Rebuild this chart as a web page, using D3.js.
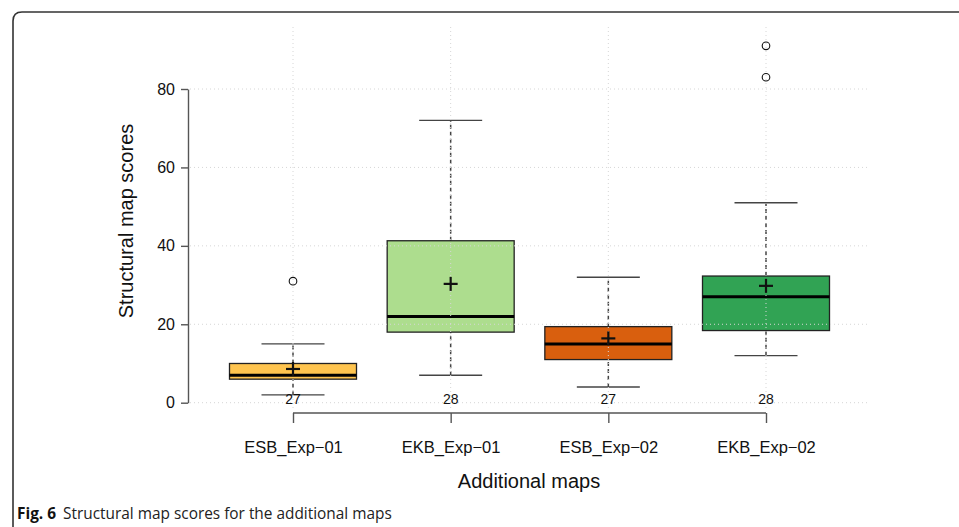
<!DOCTYPE html>
<html>
<head>
<meta charset="utf-8">
<script src="https://cdn.jsdelivr.net/npm/d3@7"></script>
<style>
  html, body { margin: 0; padding: 0; background: #fff; }
  svg { display: block; }
</style>
</head>
<body>
<svg id="chart" width="959" height="527"></svg>
<script>
// ---- data ----
const categories = ["ESB_Exp\u221201", "EKB_Exp\u221201", "ESB_Exp\u221202", "EKB_Exp\u221202"];
const lowerWhisker = [2, 7, 4, 12];
const q1Values     = [6, 18, 11, 18.4];
const medianValues = [7, 22, 15, 27];
const q3Values     = [10, 41.3, 19.4, 32.3];
const upperWhisker = [15, 72, 32, 51];
const meanValues   = [8.6, 30.3, 16.4, 29.8];
const outliers     = [[31], [], [], [91, 83]];
const counts       = [27, 28, 27, 28];
const boxColors    = ["#FEC44F", "#ADDD8E", "#D95F0E", "#31A354"];
const yTicks       = [0, 20, 40, 60, 80];

const svg = d3.select("#chart");
const chartFont = "'Liberation Sans', Arial, Helvetica, sans-serif";

// frame
svg.append("path")
  .attr("d", "M13,540 L13,21 Q13,12 22,12 L970,12")
  .attr("fill", "none").attr("stroke", "#333").attr("stroke-width", 1.6);

// scales
const x = d3.scalePoint().domain(categories).range([293, 766]);
const y = d3.scaleLinear().domain([0, 80]).range([402.7, 89]);
const boxHalf = 63.5, capHalf = 31.5;

const plotTop = 27, plotBottom = 411, plotLeft = 190, plotRight = 868;

const data = categories.map((c, i) => ({
  c, lo: lowerWhisker[i], q1: q1Values[i], med: medianValues[i], q3: q3Values[i],
  hi: upperWhisker[i], mean: meanValues[i], out: outliers[i], n: counts[i], col: boxColors[i]
}));

const g = svg.append("g");

// whiskers (dashed)
g.selectAll(".wlo").data(data).join("line")
  .attr("x1", d => x(d.c)).attr("x2", d => x(d.c))
  .attr("y1", d => y(d.lo)).attr("y2", d => y(d.q1))
  .attr("stroke", "#444").attr("stroke-width", 1.5).attr("stroke-dasharray", "4,3");
g.selectAll(".whi").data(data).join("line")
  .attr("x1", d => x(d.c)).attr("x2", d => x(d.c))
  .attr("y1", d => y(d.q3)).attr("y2", d => y(d.hi))
  .attr("stroke", "#444").attr("stroke-width", 1.5).attr("stroke-dasharray", "4,3");
// caps
g.selectAll(".caplo").data(data).join("line")
  .attr("x1", d => x(d.c) - capHalf).attr("x2", d => x(d.c) + capHalf)
  .attr("y1", d => y(d.lo)).attr("y2", d => y(d.lo))
  .attr("stroke", "#444").attr("stroke-width", 1.4);
g.selectAll(".caphi").data(data).join("line")
  .attr("x1", d => x(d.c) - capHalf).attr("x2", d => x(d.c) + capHalf)
  .attr("y1", d => y(d.hi)).attr("y2", d => y(d.hi))
  .attr("stroke", "#444").attr("stroke-width", 1.4);
// boxes
g.selectAll(".box").data(data).join("rect")
  .attr("x", d => x(d.c) - boxHalf).attr("width", boxHalf * 2)
  .attr("y", d => y(d.q3)).attr("height", d => y(d.q1) - y(d.q3))
  .attr("fill", d => d.col).attr("stroke", "#222").attr("stroke-width", 1.3);
// medians
g.selectAll(".med").data(data).join("line")
  .attr("x1", d => x(d.c) - boxHalf).attr("x2", d => x(d.c) + boxHalf)
  .attr("y1", d => y(d.med)).attr("y2", d => y(d.med))
  .attr("stroke", "#000").attr("stroke-width", 3);
// outliers
data.forEach(d => {
  g.selectAll(null).data(d.out).join("circle")
    .attr("cx", x(d.c)).attr("cy", v => y(v)).attr("r", 3.8)
    .attr("fill", "none").attr("stroke", "#111").attr("stroke-width", 1.1);
});

// grid (drawn over boxes)
const grid = svg.append("g").attr("stroke", "#d6d6d6").attr("stroke-width", 1).attr("stroke-dasharray", "1,3");
grid.selectAll(".gh").data(yTicks).join("line")
  .attr("x1", plotLeft).attr("x2", plotRight)
  .attr("y1", d => y(d)).attr("y2", d => y(d));
grid.selectAll(".gv").data(categories).join("line")
  .attr("x1", d => x(d)).attr("x2", d => x(d))
  .attr("y1", plotTop).attr("y2", plotBottom);

// means (plus)
const pm = 7;
const means = svg.append("g");
means.selectAll(".mh").data(data).join("line")
  .attr("x1", d => x(d.c) - pm).attr("x2", d => x(d.c) + pm)
  .attr("y1", d => y(d.mean)).attr("y2", d => y(d.mean))
  .attr("stroke", "#111").attr("stroke-width", 2.2);
means.selectAll(".mv").data(data).join("line")
  .attr("x1", d => x(d.c)).attr("x2", d => x(d.c))
  .attr("y1", d => y(d.mean) - pm).attr("y2", d => y(d.mean) + pm)
  .attr("stroke", "#111").attr("stroke-width", 2.2);

// counts
svg.selectAll(".cnt").data(data).join("text")
  .attr("x", d => x(d.c)).attr("y", 403.5)
  .attr("text-anchor", "middle")
  .attr("font-family", chartFont).attr("font-size", 14).attr("fill", "#111")
  .text(d => d.n);

// y axis
const yAxis = svg.append("g").attr("transform", "translate(188,0)")
  .call(d3.axisLeft(y).tickValues(yTicks).tickSize(7).tickPadding(6).tickSizeOuter(0));
yAxis.select(".domain").attr("stroke", "#555").attr("stroke-width", 1.4);
yAxis.selectAll(".tick line").attr("stroke", "#555").attr("stroke-width", 1.4);
yAxis.selectAll(".tick text").attr("font-family", chartFont).attr("font-size", 16).attr("fill", "#111");

// x axis
const xAxis = svg.append("g").attr("transform", "translate(0,413)")
  .call(d3.axisBottom(x).tickSize(10).tickPadding(18).tickSizeOuter(0));
xAxis.select(".domain").attr("stroke", "#555").attr("stroke-width", 1.4)
  .attr("d", "M" + x(categories[0]) + ",0H" + x(categories[categories.length - 1]));
xAxis.selectAll(".tick line").attr("stroke", "#555").attr("stroke-width", 1.4);
xAxis.selectAll(".tick text").attr("font-family", chartFont).attr("font-size", 16.5).attr("fill", "#111");

// axis titles
svg.append("text")
  .attr("transform", "translate(133,221) rotate(-90)")
  .attr("text-anchor", "middle")
  .attr("font-family", chartFont).attr("font-size", 20).attr("fill", "#111")
  .text("Structural map scores");
svg.append("text")
  .attr("x", 529).attr("y", 488)
  .attr("text-anchor", "middle")
  .attr("font-family", chartFont).attr("font-size", 20).attr("fill", "#111")
  .text("Additional maps");

// caption
const cap = svg.append("text")
  .attr("x", 17).attr("y", 519)
  .attr("font-family", "'Open Sans', 'Noto Sans', sans-serif").attr("font-size", 15.4).attr("fill", "#222");
cap.append("tspan").attr("font-weight", "bold").attr("fill", "#111").text("Fig. 6");
cap.append("tspan").attr("dx", 7).text("Structural map scores for the additional maps");
</script>
</body>
</html>
